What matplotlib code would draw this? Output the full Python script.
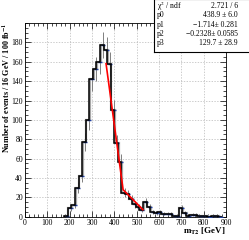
import matplotlib
matplotlib.use("Agg")
import matplotlib.pyplot as plt
import numpy as np
from matplotlib.ticker import MultipleLocator

# histogram: 16 GeV bins starting at 176 GeV
bin_width = 16
first_edge = 176
counts = [1, 9, 12, 30, 42, 77, 100, 142, 153, 160, 177, 172, 158, 110, 76, 57,
          25, 23, 18, 13, 10, 7, 15, 10, 5, 4, 5, 3, 3, 3, 1, 1, 9, 4, 1, 2, 2,
          1, 1, 1, 0, 1, 1, 0]
errors = [1, 3, 3.5, 5.5, 6.5, 9, 10, 12, 12.4, 12.6, 13.3, 13.1, 12.6, 10.5,
          8.7, 7.5, 5, 4.8, 4.2, 3.6, 3.2, 2.6, 3.9, 3.2, 2.2, 2, 2.2, 1.7, 1.7,
          1.7, 1, 1, 3, 2, 1, 1.4, 1.4, 1, 1, 1, 0, 1, 1, 0]

# fit parameters (kinked line)
fit_range = (363, 528)
p0, p1, p2 = 438.9, -1.714, -0.2328
kink_value = 28.0
stat_labels = ["\u03c7$^{2}$ / ndf", "p0", "p1", "p2", "p3"]
stat_values = ["2.721 / 6", "438.9 \u00b1 6.0", "\u22121.714\u00b1 0.281",
               "\u22120.2328\u00b1 0.0585", "129.7 \u00b1 28.9"]

plt.rcParams['font.family'] = ['Liberation Serif', 'DejaVu Serif']
plt.rcParams['mathtext.fontset'] = 'stix'

fig = plt.figure(figsize=(2.49, 2.40), dpi=100)
ax = fig.add_axes([0.100, 0.097, 0.808, 0.807])

counts = np.array(counts, dtype=float)
edges = first_edge + bin_width * np.arange(len(counts) + 1)

# gray shadow histogram + error bars + blue markers
ax.stairs(counts, edges + 3, color='#a8a8a8', lw=1.6, zorder=2)
pts_x = edges[1:] - 2
ax.errorbar(pts_x, counts, yerr=errors, fmt='none', ecolor='#808080',
            elinewidth=0.7, capsize=0, zorder=3)
ax.plot(pts_x, counts, ls='none', marker='_', ms=3, mew=1.0,
        color='#1f3fa0', zorder=4)
ax.stairs(counts, edges, color='black', lw=1.1, zorder=5)

xf = np.linspace(fit_range[0], fit_range[1], 200)
yf = np.where(xf < p0, kink_value + p1 * (xf - p0), kink_value + p2 * (xf - p0))
ax.plot(xf, yf, color='red', lw=1.2, zorder=6)

ax.set_xlim(0, 900)
ax.set_ylim(0, 200)
ax.xaxis.set_major_locator(MultipleLocator(100))
ax.xaxis.set_minor_locator(MultipleLocator(20))
ax.yaxis.set_major_locator(MultipleLocator(20))
ax.yaxis.set_minor_locator(MultipleLocator(5))
ax.set_yticks(np.arange(0, 200, 20))
ax.tick_params(which='both', direction='in', top=True, right=True,
               labelsize=5.5, pad=1.5, width=0.5)
ax.tick_params(which='major', length=4)
ax.tick_params(which='minor', length=2)
ax.grid(True, which='major', ls=(0, (2, 2)), color='#b8b8b8', lw=0.5)
for s in ax.spines.values():
    s.set_linewidth(0.6)

fig.text(0.025, 0.905, "Number of events / 16 GeV / 100 fb$^{\\mathbf{-1}}$",
         rotation=90, ha='center', va='top', fontsize=5.9, weight='bold')
fig.text(0.905, 0.035, "m$_{\\mathbf{T2}}$ [GeV]", ha='right', va='center',
         fontsize=6.5, weight='bold')

# stat box
box = fig.add_axes([0.620, 0.783, 0.40, 0.22])
box.set_xlim(0, 1)
box.set_ylim(0, 1)
box.set_xticks([])
box.set_yticks([])
for s in box.spines.values():
    s.set_linewidth(0.8)
for i, (lab, val) in enumerate(zip(stat_labels, stat_values)):
    y = 0.871 - i * 0.176
    box.text(0.025, y, lab, fontsize=5.5, va='center', ha='left')
    box.text(0.84, y, val, fontsize=5.5, va='center', ha='right')

fig.savefig('out.png', dpi=100)
